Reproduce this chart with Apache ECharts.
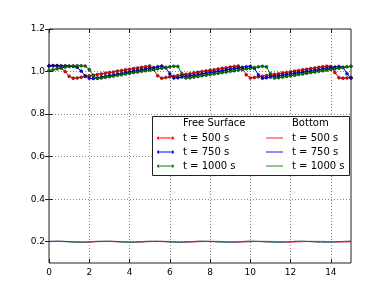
<!DOCTYPE html>
<html><head><meta charset="utf-8">
<script src="https://cdn.jsdelivr.net/npm/echarts@6/dist/echarts.min.js"></script>
<style>html,body{margin:0;padding:0;background:#fff}#c{width:390px;height:293px}</style>
</head><body><div id="c"></div>
<script>
var xs = [0,0.2,0.4,0.6,0.8,1.0,1.2,1.4,1.6,1.8,2.0,2.2,2.4,2.6,2.8,3.0,3.2,3.4,3.6,3.8,4.0,4.2,4.4,4.6,4.8,5.0,5.2,5.4,5.6,5.8,6.0,6.2,6.4,6.6,6.8,7.0,7.2,7.4,7.6,7.8,8.0,8.2,8.4,8.6,8.8,9.0,9.2,9.4,9.6,9.8,10.0,10.2,10.4,10.6,10.8,11.0,11.2,11.4,11.6,11.8,12.0,12.2,12.4,12.6,12.8,13.0,13.2,13.4,13.6,13.8,14.0,14.2,14.4,14.6,14.8,15.0];
var fsRed = [1.026,1.027,1.026,1.018,1.000,0.978,0.969,0.970,0.973,0.977,0.980,0.983,0.986,0.989,0.992,0.995,0.998,1.002,1.005,1.008,1.011,1.014,1.017,1.020,1.023,1.026,1.010,0.980,0.969,0.972,0.975,0.978,0.981,0.984,0.987,0.990,0.994,0.997,1.000,1.003,1.006,1.009,1.012,1.015,1.018,1.021,1.024,1.026,1.015,0.985,0.970,0.972,0.975,0.978,0.981,0.984,0.987,0.990,0.993,0.996,0.999,1.002,1.005,1.008,1.011,1.014,1.017,1.020,1.023,1.025,1.024,0.995,0.971,0.969,0.970,0.971];
var fsBlue = [1.027,1.028,1.028,1.027,1.027,1.026,1.025,1.020,1.002,0.980,0.969,0.967,0.970,0.974,0.977,0.981,0.984,0.988,0.991,0.995,0.998,1.002,1.005,1.009,1.012,1.016,1.019,1.023,1.026,1.018,0.990,0.970,0.971,0.974,0.977,0.980,0.983,0.986,0.989,0.992,0.995,0.998,1.001,1.004,1.008,1.011,1.014,1.017,1.020,1.023,1.025,1.015,0.985,0.969,0.971,0.974,0.977,0.980,0.983,0.986,0.989,0.992,0.995,0.997,1.000,1.003,1.006,1.009,1.012,1.015,1.018,1.021,1.024,1.020,0.990,0.970];
var fsGreen = [1.005,1.009,1.013,1.017,1.021,1.024,1.026,1.027,1.027,1.026,1.010,0.980,0.968,0.970,0.973,0.976,0.979,0.982,0.985,0.989,0.992,0.995,0.998,1.001,1.004,1.007,1.010,1.013,1.016,1.019,1.022,1.025,1.024,0.990,0.970,0.971,0.974,0.977,0.980,0.983,0.986,0.989,0.992,0.995,0.998,1.001,1.004,1.007,1.010,1.013,1.016,1.019,1.022,1.025,1.022,0.990,0.970,0.971,0.974,0.977,0.980,0.983,0.986,0.989,0.992,0.995,0.998,1.001,1.004,1.007,1.010,1.013,1.016,1.019,1.022,1.025];
var xsB = [0,0.5,1,1.5,2,2.5,3,3.5,4,4.5,5,5.5,6,6.5,7,7.5,8,8.5,9,9.5,10,10.5,11,11.5,12,12.5,13,13.5,14,14.5,15];
var botRed = [0.2000,0.2022,0.2010,0.1982,0.1978,0.2004,0.2024,0.2012,0.1984,0.1976,0.2002,0.2023,0.2015,0.1986,0.1977,0.1999,0.2022,0.2017,0.1989,0.1976,0.1996,0.2021,0.2019,0.1992,0.1977,0.1994,0.2020,0.2020,0.1995,0.1978,0.1992];
var botBlue = [0.2012,0.2024,0.1998,0.1978,0.1990,0.2018,0.2020,0.1994,0.1977,0.1993,0.2020,0.2018,0.1990,0.1978,0.1996,0.2022,0.2015,0.1987,0.1978,0.2000,0.2023,0.2012,0.1984,0.1979,0.2004,0.2024,0.2009,0.1982,0.1981,0.2007,0.2023];
var botGreen = [0.2020,0.2016,0.1988,0.1977,0.1998,0.2022,0.2014,0.1986,0.1978,0.2001,0.2023,0.2011,0.1984,0.1979,0.2004,0.2024,0.2008,0.1982,0.1980,0.2007,0.2024,0.2005,0.1980,0.1982,0.2010,0.2023,0.2002,0.1979,0.1984,0.2013,0.2022];
var xTicks = [0,2,4,6,8,10,12,14];
var yTicks = [0.2,0.4,0.6,0.8,1.0,1.2];
var legendLabels = {fs500:'t = 500 s', fs750:'t = 750 s', fs1000:'t = 1000 s', b500:'t = 500 s', b750:'t = 750 s', b1000:'t = 1000 s'};

function pairs(x, y){ return x.map(function(v,i){ return [v, y[i]]; }); }
var FONT = 'DejaVu Sans';
var chart = echarts.init(document.getElementById('c'), null, {renderer:'canvas'});
function fsSeries(name, c, y){
  return {name:name, type:'line', data:pairs(xs,y), symbol:'circle', symbolSize:3, showSymbol:true,
    lineStyle:{color:c, width:1}, itemStyle:{color:c, borderColor:'#000', borderWidth:0.4}, animation:false, z:2};
}
function bSeries(name, c, y){
  return {name:name, type:'line', data:pairs(xsB,y), symbol:'none', smooth:true,
    lineStyle:{color:c, width:1, opacity:0.65}, itemStyle:{color:c, opacity:0.75}, animation:false, z:2};
}
var fsIcon = 'path://M0,2.5a1.5,1.5 0 1,0 3,0a1.5,1.5 0 1,0 -3,0ZM2,2L15,2L15,3L2,3ZM14,2.5a1.5,1.5 0 1,0 3,0a1.5,1.5 0 1,0 -3,0Z';
var bIcon = 'path://M0,0L17,0L17,1.2L0,1.2Z';
var legendCommon = {orient:'vertical', itemWidth:17, itemGap:0, padding:0, selectedMode:false,
  itemStyle:{borderWidth:0, borderColor:'transparent'},
  formatter:function(n){ return legendLabels[n]; },
  textStyle:{fontFamily:FONT, fontSize:10, color:'#000', lineHeight:14, padding:[0,0,0,4]}};
var option = {
  animation:false,
  grid:{left:49, right:39, top:29, bottom:30, show:true, borderColor:'#222', borderWidth:1, backgroundColor:'transparent'},
  xAxis:[{type:'value', min:0, max:15, position:'bottom',
    axisLine:{show:false}, axisTick:{show:true, inside:true, length:4, lineStyle:{color:'#222'}, customValues:xTicks},
    axisLabel:{customValues:xTicks, fontFamily:FONT, fontSize:9, color:'#000', margin:5},
    splitLine:{show:true, lineStyle:{color:'#888', type:[1,2], width:1}}},
    {type:'value', min:0, max:15, position:'top',
    axisLine:{show:false}, axisTick:{show:true, inside:true, length:4, lineStyle:{color:'#222'}, customValues:xTicks},
    axisLabel:{show:false}, splitLine:{show:false}}],
  yAxis:[{type:'value', min:0.1, max:1.2, position:'left',
    axisLine:{show:false}, axisTick:{show:true, inside:true, length:4, lineStyle:{color:'#222'}, customValues:yTicks},
    axisLabel:{customValues:yTicks, fontFamily:FONT, fontSize:9, color:'#000', margin:4, formatter:function(v){return v.toFixed(1);}},
    splitLine:{show:true, lineStyle:{color:'#888', type:[1,2], width:1}}},
    {type:'value', min:0.1, max:1.2, position:'right',
    axisLine:{show:false}, axisTick:{show:true, inside:true, length:4, lineStyle:{color:'#222'}, customValues:yTicks},
    axisLabel:{show:false}, splitLine:{show:false}}],
  legend:[
    Object.assign({}, legendCommon, {left:157, top:131, itemHeight:5,
      data:[{name:'fs500', icon:fsIcon},{name:'fs750', icon:fsIcon},{name:'fs1000', icon:fsIcon}]}),
    Object.assign({}, legendCommon, {left:266, top:131, itemHeight:1.2,
      data:[{name:'b500', icon:bIcon},{name:'b750', icon:bIcon},{name:'b1000', icon:bIcon}]})
  ],
  graphic:[
    {type:'rect', z:3, shape:{x:152.5, y:116.5, width:197, height:59}, style:{fill:'#fff', stroke:'#222', lineWidth:1}},
    {type:'text', z:5, left:183, top:118, style:{text:'Free Surface', font:'10px "DejaVu Sans"', fill:'#000'}},
    {type:'text', z:5, left:292, top:118, style:{text:'Bottom', font:'10px "DejaVu Sans"', fill:'#000'}}
  ],
  series:[
    fsSeries('fs500','#ff0000',fsRed),
    fsSeries('fs750','#0000ff',fsBlue),
    fsSeries('fs1000','#008000',fsGreen),
    bSeries('b500','#ff0000',botRed),
    bSeries('b750','#0000ff',botBlue),
    bSeries('b1000','#008000',botGreen)
  ]
};
chart.setOption(option);
</script></body></html>
